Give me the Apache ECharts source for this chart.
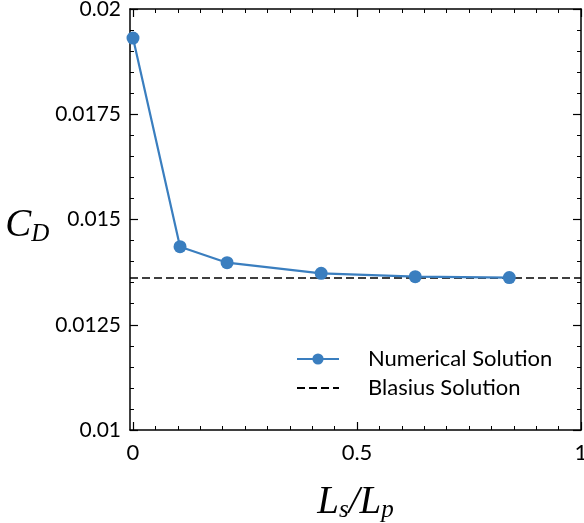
<!DOCTYPE html>
<html><head><meta charset="utf-8">
<script src="https://cdn.jsdelivr.net/npm/echarts@6/dist/echarts.min.js"></script>
<style>html,body{margin:0;padding:0;background:#fff}#c{width:584px;height:523px}</style>
</head><body><div id="c"></div>
<script>
const xValues = [0, 0.105, 0.21, 0.42, 0.63, 0.84];
const numericalCD = [0.01931, 0.014354, 0.013974, 0.013722, 0.013642, 0.01362];
const blasiusCD = 0.01361;
const yMajorTicks = [0.01, 0.0125, 0.015, 0.0175, 0.02];
const yTickLabels = ['0.01', '0.0125', '0.015', '0.0175', '0.02'];
const xMajorTicks = [0, 0.5, 1];
const xTickLabels = ['0', '0.5', '1'];

const xMinorTicks = [];
for (let k = 1; k < 20; k++) if (k !== 10) xMinorTicks.push(k / 20);
const yMinorTicks = [];
for (let k = 1; k < 20; k++) if (k % 5 !== 0) yMinorTicks.push(0.01 + k * 0.0005);

const chart = echarts.init(document.getElementById('c'));
const font = 'Lato';
const BLACK = '#000';
const XMIN = -0.0067;

function lookup(ticks, labels, v) {
  const i = ticks.findIndex(t => Math.abs(t - v) < 1e-9);
  return i >= 0 ? labels[i] : '';
}
const mathRich = {
  i:{fontFamily:'Liberation Serif', fontStyle:'italic', fontSize:39, color:BLACK, lineHeight:40, verticalAlign:'top'},
  s:{fontFamily:'Liberation Serif', fontStyle:'italic', fontSize:25, color:BLACK, lineHeight:24, padding:[18,0,0,0], verticalAlign:'bottom'}
};

function xAx(pos, major, withLabel) {
  const o = {
    type:'value', min:XMIN, max:1, position:pos, gridIndex:0,
    axisLine:{show:major, onZero:false, lineStyle:{color:BLACK, width:1.5}},
    axisTick:{show:true, inside:true, length: major ? 8 : 4,
      customValues: major ? xMajorTicks : xMinorTicks, lineStyle:{color:BLACK, width: major ? 1.2 : 1}},
    axisLabel:{show:false},
    splitLine:{show:false}
  };
  if (withLabel) {
    o.axisLabel = {show:true, customValues:xMajorTicks, fontFamily:font, fontSize:22, color:BLACK, margin:12,
      formatter:v => lookup(xMajorTicks, xTickLabels, v)};
    o.name = '{i|L}{s|s}{i|/L}{s|p}';
    o.nameLocation = 'middle';
    o.nameGap = 53;
    o.nameTextStyle = {rich:mathRich};
  }
  return o;
}
function yAx(pos, major, withLabel) {
  const o = {
    type:'value', min:0.01, max:0.02, position:pos,
    axisLine:{show:major, onZero:false, lineStyle:{color:BLACK, width:1.5}},
    axisTick:{show:true, inside:true, length: major ? 8 : 4,
      customValues: major ? yMajorTicks : yMinorTicks, lineStyle:{color:BLACK, width: major ? 1.2 : 1}},
    axisLabel:{show:false},
    splitLine:{show:false}
  };
  if (withLabel) {
    o.axisLabel = {show:true, customValues:yMajorTicks, fontFamily:font, fontSize:21, color:BLACK, margin:9,
      formatter:v => lookup(yMajorTicks, yTickLabels, v)};
    o.name = '{i|C}{s|D}';
    o.nameLocation = 'middle';
    o.nameRotate = 0;
    o.nameGap = 72;
    o.nameTextStyle = {padding:[14,0,0,0], rich:mathRich};
  }
  return o;
}

chart.setOption({
  animation:false,
  grid:{left:130, right:3, top:9, bottom:93, containLabel:false, outerBoundsMode:'none'},
  legend:{
    orient:'vertical', left:291, top:343, itemWidth:42, itemHeight:14, itemGap:7,
    textStyle:{fontFamily:font, fontSize:22, color:BLACK, padding:[0,0,0,24]},
    data:[{name:'Numerical Solution'},{name:'Blasius Solution', itemStyle:{opacity:0}}]
  },
  xAxis:[ xAx('bottom', true, true), xAx('bottom', false, false), xAx('top', true, false), xAx('top', false, false) ],
  yAxis:[ yAx('left', true, true), yAx('left', false, false), yAx('right', true, false), yAx('right', false, false) ],
  series:[
    {name:'Blasius Solution', type:'line', symbol:'none', xAxisIndex:0, yAxisIndex:0,
     data:[[XMIN, blasiusCD],[1, blasiusCD]],
     lineStyle:{color:BLACK, width:1.6, type:[8,4]}, itemStyle:{color:BLACK}, z:1},
    {name:'Numerical Solution', type:'line', symbol:'circle', symbolSize:13, xAxisIndex:0, yAxisIndex:0,
     data:xValues.map((x,i)=>[x, numericalCD[i]]),
     lineStyle:{color:'#3a7ebf', width:2.2}, itemStyle:{color:'#3a7ebf'}, z:3}
  ]
});
</script></body></html>
